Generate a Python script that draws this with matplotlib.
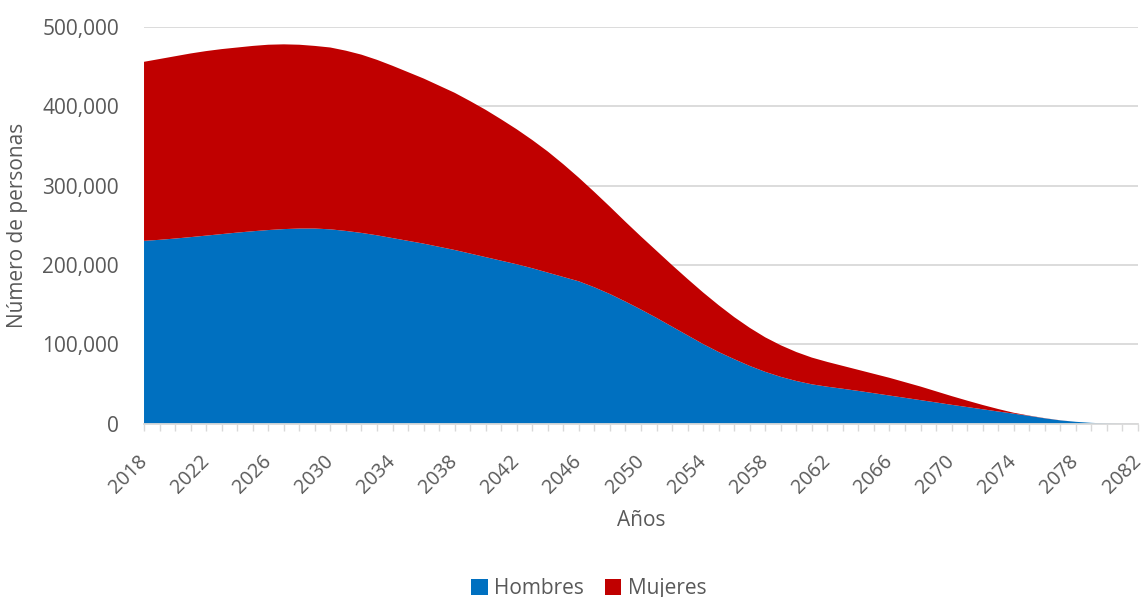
#Stacked area chart: personas por año, hombres y mujeres
import matplotlib.pyplot as plt
import matplotlib.ticker as ticker
import numpy as np

plt.rcParams['font.family'] = ['Open Sans', 'DejaVu Sans']

#Years and values (thousands of persons)
years = list(range(2018, 2083))
hombres = [230.5, 231.8, 233.4, 235.2, 237.1, 239.0, 240.9, 242.6, 244.1, 245.3,
           246.0, 246.0, 245.0, 243.0, 240.5, 237.5, 234.0, 230.5, 227.0, 223.0,
           219.0, 214.5, 210.0, 205.5, 201.0, 196.0, 190.5, 185.0, 179.5, 172.0,
           163.5, 154.0, 144.0, 133.5, 122.5, 111.5, 100.5, 90.5, 81.5, 73.0,
           65.5, 59.2, 54.0, 49.8, 46.8, 44.2, 41.5, 38.6, 35.7, 32.8,
           29.9, 27.0, 24.0, 21.2, 18.4, 15.6, 12.9, 10.0, 7.0, 4.4,
           2.6, 1.3, 0.5, 0.1, 0.0]
mujeres = [225.5, 227.7, 229.6, 231.3, 232.4, 233.0, 233.1, 233.4, 233.4, 232.7,
           231.5, 230.0, 229.0, 227.0, 224.5, 221.0, 217.0, 212.5, 208.0, 203.0,
           198.0, 192.0, 185.5, 178.0, 170.0, 161.5, 152.5, 142.0, 130.5, 120.0,
           110.0, 100.5, 92.0, 84.5, 77.5, 71.0, 65.0, 59.0, 53.0, 48.0,
           43.5, 39.8, 36.5, 33.7, 31.2, 28.8, 26.5, 24.4, 22.3, 19.7,
           17.1, 14.0, 11.0, 8.1, 5.4, 3.1, 1.1, 0.4, 0.2, 0.1,
           0.0, 0.0, 0.0, 0.0, 0.0]

hombres = np.array(hombres) * 1000
mujeres = np.array(mujeres) * 1000

colorHombres = '#0070C0'
colorMujeres = '#C00000'
textColor = '#595959'

fig = plt.figure(figsize=(11.43, 5.97), dpi=100)
ax = fig.add_axes([0.126, 0.290, 0.8696, 0.665])

ax.stackplot(years, hombres, mujeres, colors=[colorHombres, colorMujeres],
             labels=['Hombres', 'Mujeres'], linewidth=0)

ax.set_xlim(2018, 2082)
ax.set_ylim(0, 500000)

#Gridlines
ax.set_yticks(np.arange(0, 500001, 100000))
ax.yaxis.set_major_formatter(ticker.FuncFormatter(lambda v, p: '{:,.0f}'.format(v)))
ax.grid(axis='y', color='#d9d9d9', linewidth=1.3)
ax.set_axisbelow(True)

#Year ticks, label every 4 years
ax.set_xticks(years)
ax.set_xticklabels([str(y) if (y - 2018) % 4 == 0 else '' for y in years],
                   rotation=45, ha='right', va='center', rotation_mode='anchor')

ax.tick_params(axis='y', length=0, labelsize=15, colors=textColor, pad=18)
ax.tick_params(axis='x', length=5, width=1, color='#d9d9d9', labelsize=14.2,
               labelcolor=textColor, pad=20)

for s in ['top', 'right', 'left']:
    ax.spines[s].set_visible(False)
ax.spines['bottom'].set_color('#d9d9d9')
ax.spines['bottom'].set_linewidth(1.3)

ax.set_xlabel('Años', fontsize=15, color=textColor, labelpad=9)
ax.set_ylabel('Número de personas', fontsize=15, color=textColor, labelpad=10)

fig.legend(loc='center', bbox_to_anchor=(0.515, 0.014), ncol=2, frameon=False,
           fontsize=15, labelcolor=textColor, handlelength=0.8, handleheight=0.8,
           handletextpad=0.3, columnspacing=1.0)

fig.savefig('out.png', dpi=100)
